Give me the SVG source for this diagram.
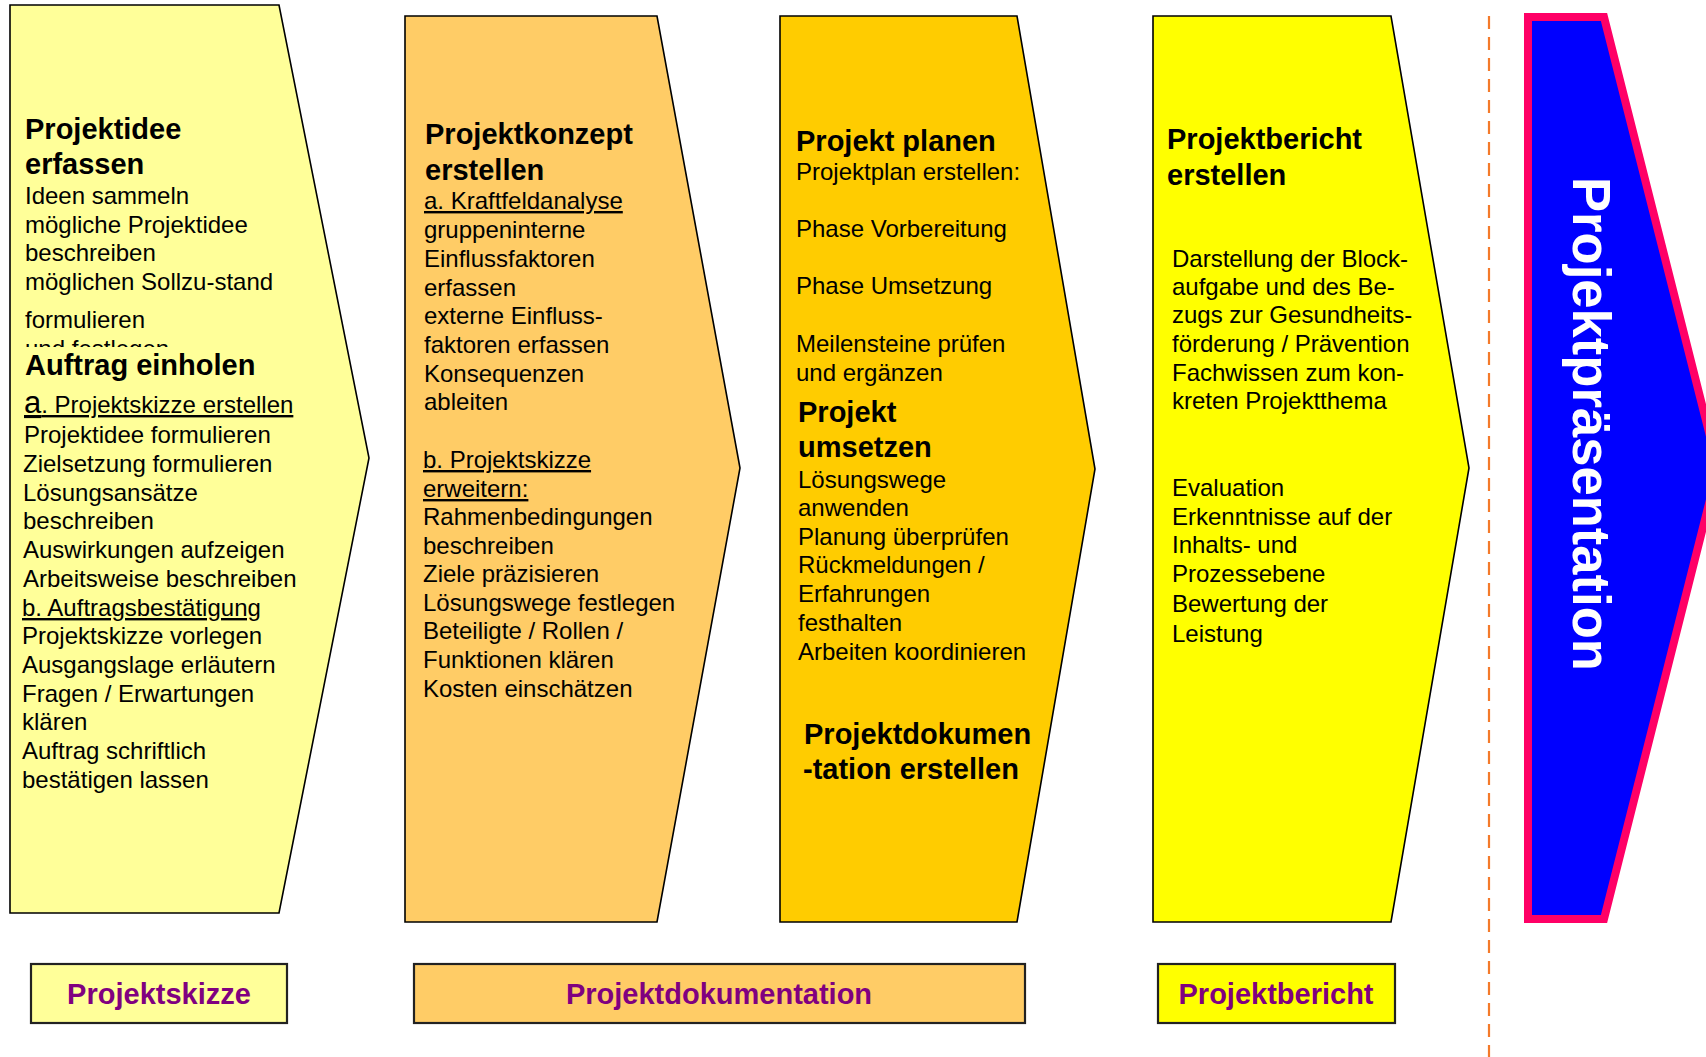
<svg xmlns="http://www.w3.org/2000/svg" width="1706" height="1057" viewBox="0 0 1706 1057">
<style>
.sh{stroke:#000;stroke-width:1.6;stroke-linejoin:miter}
.h{font-family:"Liberation Sans",Arial,sans-serif;font-weight:bold;font-size:29px;fill:#000}
.t{font-family:"Liberation Sans",Arial,sans-serif;font-size:24px;fill:#000}
.u{text-decoration:underline}
.box{stroke:#222;stroke-width:2.2}
.lbl{font-family:"Liberation Sans",Arial,sans-serif;font-weight:bold;font-size:29px;fill:#800080;text-anchor:middle}
</style>
<defs>
<clipPath id="clipUnd"><rect x="0" y="300" width="370" height="47"/></clipPath>
</defs>
<rect width="1706" height="1057" fill="#fff"/>

<g id="separator">
<line x1="1489" y1="16" x2="1489" y2="1057" stroke="#F47A2A" stroke-width="2.2" stroke-dasharray="13,8"/>
</g>

<g id="node-projektidee">
<polygon class="sh" fill="#FFFF99" points="10,5 279,5 369,458 279,913 10,913"/>
<text class="h" x="25" y="139">Projektidee</text>
<text class="h" x="25" y="174">erfassen</text>
<text class="t" x="25" y="204">Ideen sammeln</text>
<text class="t" x="25" y="233">mögliche Projektidee</text>
<text class="t" x="25" y="261">beschreiben</text>
<text class="t" x="25" y="290">möglichen Sollzu-stand</text>
<text class="t" x="25" y="328">formulieren</text>
<text class="t" x="25" y="357" clip-path="url(#clipUnd)">und festlegen</text>
<text class="h" x="25" y="375">Auftrag einholen</text>
<text class="t u" x="24" y="413"><tspan font-size="31">a</tspan>. Projektskizze erstellen</text>
<text class="t" x="24" y="443">Projektidee formulieren</text>
<text class="t" x="23" y="472">Zielsetzung formulieren</text>
<text class="t" x="23" y="501">Lösungsansätze</text>
<text class="t" x="23" y="529">beschreiben</text>
<text class="t" x="23" y="558">Auswirkungen aufzeigen</text>
<text class="t" x="23" y="587">Arbeitsweise beschreiben</text>
<text class="t u" x="22" y="616">b. Auftragsbestätigung</text>
<text class="t" x="22" y="644">Projektskizze vorlegen</text>
<text class="t" x="22" y="673">Ausgangslage erläutern</text>
<text class="t" x="22" y="702">Fragen / Erwartungen</text>
<text class="t" x="22" y="730">klären</text>
<text class="t" x="22" y="759">Auftrag schriftlich</text>
<text class="t" x="22" y="788">bestätigen lassen</text>
</g>

<g id="node-projektkonzept">
<polygon class="sh" fill="#FFCC66" points="405,16 657,16 740,468 657,922 405,922"/>
<text class="h" x="425" y="144">Projektkonzept</text>
<text class="h" x="425" y="180">erstellen</text>
<text class="t u" x="424" y="209">a. Kraftfeldanalyse</text>
<text class="t" x="424" y="238">gruppeninterne</text>
<text class="t" x="424" y="267">Einflussfaktoren</text>
<text class="t" x="424" y="296">erfassen</text>
<text class="t" x="424" y="324">externe Einfluss-</text>
<text class="t" x="424" y="353">faktoren erfassen</text>
<text class="t" x="424" y="382">Konsequenzen</text>
<text class="t" x="424" y="410">ableiten</text>
<text class="t u" x="423" y="468">b. Projektskizze</text>
<text class="t u" x="423" y="497">erweitern:</text>
<text class="t" x="423" y="525">Rahmenbedingungen</text>
<text class="t" x="423" y="554">beschreiben</text>
<text class="t" x="423" y="582">Ziele präzisieren</text>
<text class="t" x="423" y="611">Lösungswege festlegen</text>
<text class="t" x="423" y="639">Beteiligte / Rollen /</text>
<text class="t" x="423" y="668">Funktionen klären</text>
<text class="t" x="423" y="697">Kosten einschätzen</text>
</g>

<g id="node-projekt-planen">
<polygon class="sh" fill="#FFCC00" points="780,16 1017,16 1095,469 1017,922 780,922"/>
<text class="h" x="796" y="151">Projekt planen</text>
<text class="t" x="796" y="180">Projektplan erstellen:</text>
<text class="t" x="796" y="237">Phase Vorbereitung</text>
<text class="t" x="796" y="294">Phase Umsetzung</text>
<text class="t" x="796" y="352">Meilensteine prüfen</text>
<text class="t" x="796" y="381">und ergänzen</text>
<text class="h" x="798" y="422">Projekt</text>
<text class="h" x="798" y="457">umsetzen</text>
<text class="t" x="798" y="488">Lösungswege</text>
<text class="t" x="798" y="516">anwenden</text>
<text class="t" x="798" y="545">Planung überprüfen</text>
<text class="t" x="798" y="573">Rückmeldungen /</text>
<text class="t" x="798" y="602">Erfahrungen</text>
<text class="t" x="798" y="631">festhalten</text>
<text class="t" x="798" y="660">Arbeiten koordinieren</text>
<text class="h" x="804" y="744">Projektdokumen</text>
<text class="h" x="803" y="779">-tation erstellen</text>
</g>

<g id="node-projektbericht">
<polygon class="sh" fill="#FFFF00" points="1153,16 1391,16 1469,468 1391,922 1153,922"/>
<text class="h" x="1167" y="149">Projektbericht</text>
<text class="h" x="1167" y="185">erstellen</text>
<text class="t" x="1172" y="267">Darstellung der Block-</text>
<text class="t" x="1172" y="295">aufgabe und des Be-</text>
<text class="t" x="1172" y="323">zugs zur Gesundheits-</text>
<text class="t" x="1172" y="352">förderung / Prävention</text>
<text class="t" x="1172" y="381">Fachwissen zum kon-</text>
<text class="t" x="1172" y="409">kreten Projektthema</text>
<text class="t" x="1172" y="496">Evaluation</text>
<text class="t" x="1172" y="525">Erkenntnisse auf der</text>
<text class="t" x="1172" y="553">Inhalts- und</text>
<text class="t" x="1172" y="582">Prozessebene</text>
<text class="t" x="1172" y="612">Bewertung der</text>
<text class="t" x="1172" y="642">Leistung</text>
</g>

<g id="node-projektpraesentation">
<polygon fill="#0000FF" stroke="#FF0066" stroke-width="8" points="1528,17 1604,17 1718,468 1604,919 1528,919"/>
<text transform="translate(1573,177) rotate(90)" textLength="494" lengthAdjust="spacingAndGlyphs" font-family="'Liberation Sans',Arial,sans-serif" font-weight="bold" font-size="54" fill="#fff">Projektpräsentation</text>
</g>

<g id="label-projektskizze">
<rect class="box" fill="#FFFF99" x="31" y="964" width="256" height="59"/>
<text class="lbl" x="159" y="1004">Projektskizze</text>
</g>
<g id="label-projektdokumentation">
<rect class="box" fill="#FFCC66" x="414" y="964" width="611" height="59"/>
<text class="lbl" x="719" y="1004">Projektdokumentation</text>
</g>
<g id="label-projektbericht">
<rect class="box" fill="#FFFF00" x="1158" y="964" width="237" height="59"/>
<text class="lbl" x="1276" y="1004">Projektbericht</text>
</g>
</svg>
